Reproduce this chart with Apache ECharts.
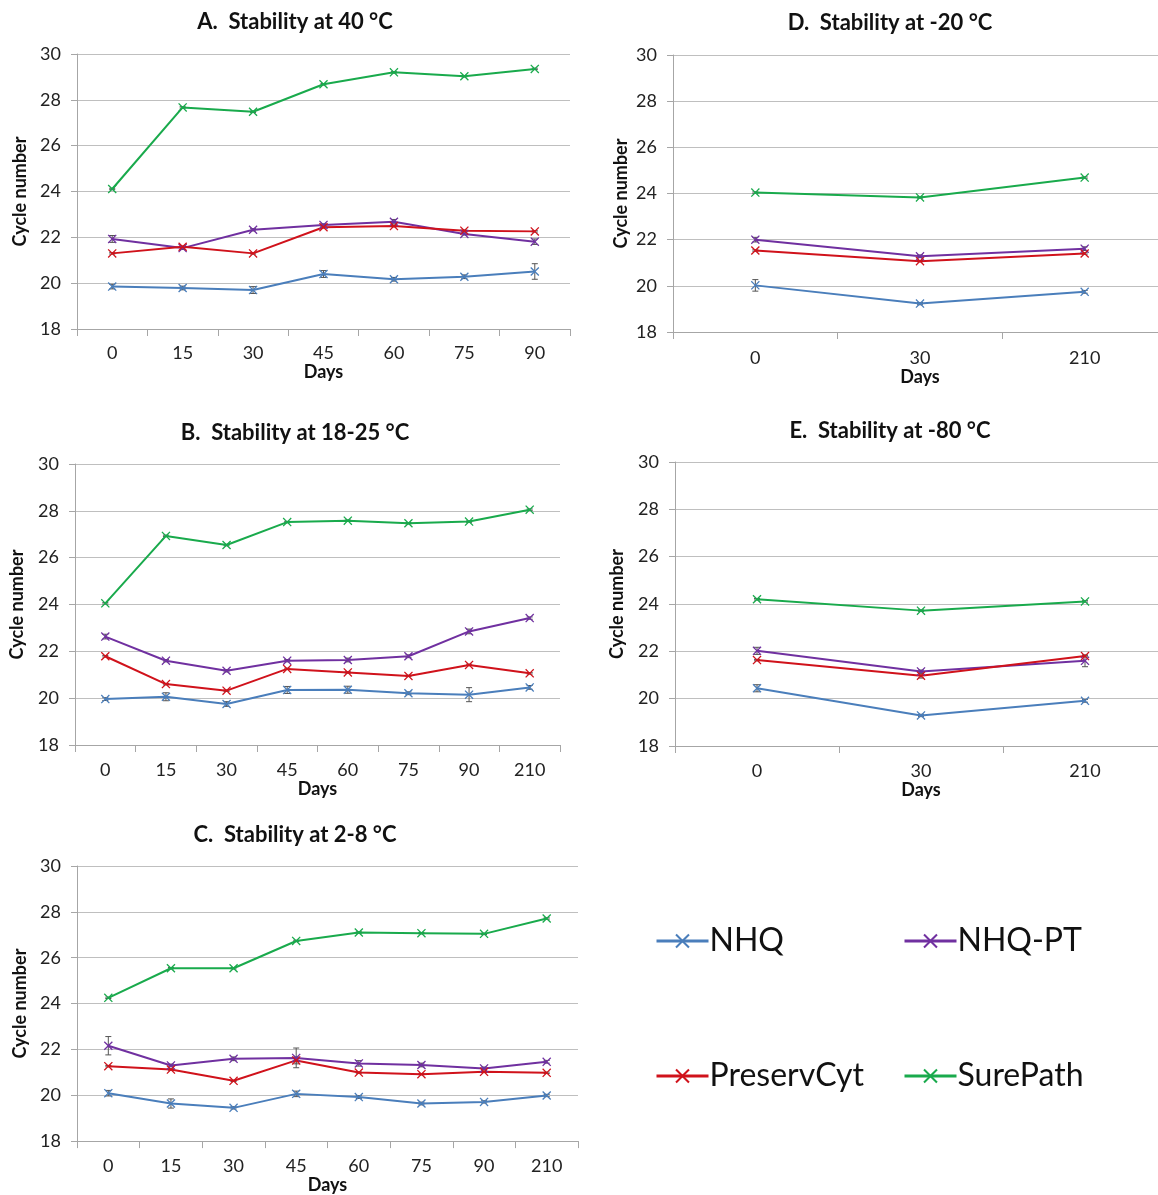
<!DOCTYPE html>
<html><head><meta charset="utf-8">
<script src="https://cdn.jsdelivr.net/npm/echarts@6/dist/echarts.min.js"></script>
<style>html,body{margin:0;padding:0;background:#fff;overflow:hidden}#c{width:1172px;height:1195px}</style>
</head><body><div id="c"></div>
<script>
// ---- categories ----
const daysA = ['0','15','30','45','60','75','90'];
const daysB = ['0','15','30','45','60','75','90','210'];
const daysC = ['0','15','30','45','60','75','90','210'];
const daysD = ['0','30','210'];
const daysE = ['0','30','210'];
const yTicks = [18,20,22,24,26,28,30];
const seriesNames = ['NHQ','NHQ-PT','PreservCyt','SurePath'];

// ---- A. 40 °C ----
const A_NHQ   = [19.85,19.79,19.70,20.40,20.17,20.28,20.51];
const A_NHQPT = [21.93,21.53,22.33,22.54,22.68,22.15,21.81];
const A_Pres  = [21.30,21.59,21.30,22.44,22.49,22.29,22.26];
const A_Sure  = [24.11,27.67,27.48,28.68,29.20,29.03,29.35];
const A_NHQ_err   = [0.10,0.08,0.15,0.15,0.08,0.08,0.34];
const A_NHQPT_err = [0.15,0.06,0.05,0.05,0.10,0.05,0.12];
const A_Pres_err  = [0.03,0.03,0.03,0.03,0.03,0.03,0.03];
const A_Sure_err  = [0.03,0.03,0.03,0.03,0.03,0.03,0.03];

// ---- B. 18-25 °C ----
const B_NHQ   = [19.96,20.06,19.75,20.35,20.36,20.21,20.15,20.46];
const B_NHQPT = [22.63,21.60,21.17,21.60,21.63,21.79,22.85,23.42];
const B_Pres  = [21.79,20.60,20.32,21.25,21.10,20.95,21.42,21.06];
const B_Sure  = [24.05,26.93,26.54,27.52,27.58,27.47,27.54,28.05];
const B_NHQ_err   = [0.06,0.17,0.10,0.15,0.15,0.06,0.30,0.08];
const B_NHQPT_err = [0.10,0.05,0.05,0.05,0.08,0.06,0.10,0.05];
const B_Pres_err  = [0.03,0.03,0.03,0.03,0.03,0.03,0.03,0.03];
const B_Sure_err  = [0.03,0.03,0.03,0.03,0.03,0.03,0.03,0.03];

// ---- C. 2-8 °C ----
const C_NHQ   = [20.09,19.64,19.45,20.06,19.92,19.64,19.71,19.99];
const C_NHQPT = [22.16,21.30,21.59,21.63,21.39,21.32,21.17,21.46];
const C_Pres  = [21.27,21.12,20.63,21.52,20.99,20.92,21.02,20.98];
const C_Sure  = [24.25,25.54,25.54,26.73,27.10,27.07,27.04,27.71];
const C_NHQ_err   = [0.12,0.20,0.05,0.12,0.06,0.06,0.05,0.05];
const C_NHQPT_err = [0.40,0.06,0.08,0.43,0.12,0.08,0.06,0.06];
const C_Pres_err  = [0.03,0.03,0.03,0.15,0.03,0.03,0.03,0.03];
const C_Sure_err  = [0.03,0.03,0.03,0.03,0.03,0.03,0.03,0.03];

// ---- D. -20 °C ----
const D_NHQ   = [20.02,19.23,19.74];
const D_NHQPT = [22.00,21.28,21.61];
const D_Pres  = [21.53,21.07,21.40];
const D_Sure  = [24.04,23.83,24.69];
const D_NHQ_err   = [0.25,0.05,0.06];
const D_NHQPT_err = [0.10,0.06,0.08];
const D_Pres_err  = [0.03,0.03,0.03];
const D_Sure_err  = [0.03,0.03,0.03];

// ---- E. -80 °C ----
const E_NHQ   = [20.44,19.29,19.91];
const E_NHQPT = [22.02,21.15,21.60];
const E_Pres  = [21.63,20.97,21.80];
const E_Sure  = [24.20,23.72,24.11];
const E_NHQ_err   = [0.15,0.05,0.06];
const E_NHQPT_err = [0.15,0.06,0.25];
const E_Pres_err  = [0.03,0.10,0.03];
const E_Sure_err  = [0.03,0.03,0.03];

const colors = {'NHQ':'#4A7EBB','NHQ-PT':'#7030A0','PreservCyt':'#D0121B','SurePath':'#19AA4C'};
const FONT = 'Lato, "Open Sans", sans-serif';
const XSYM = 'path://M0,1L1,0L5,4L9,0L10,1L6,5L10,9L9,10L5,6L1,10L0,9L4,5Z';

const panels = [
  {title:'A.  Stability at 40 °C', cx:290, ty:6, cats:daysA, grid:{left:77,top:54,width:493,height:275},
   lm:15, xg:34, yg:48,
   vals:[A_NHQ,A_NHQPT,A_Pres,A_Sure], errs:[A_NHQ_err,A_NHQPT_err,A_Pres_err,A_Sure_err]},
  {title:'D.  Stability at -20 °C', cx:885, ty:7, cats:daysD, grid:{left:673,top:55,width:494,height:277},
   lm:17, xg:36, yg:43,
   vals:[D_NHQ,D_NHQPT,D_Pres,D_Sure], errs:[D_NHQ_err,D_NHQPT_err,D_Pres_err,D_Sure_err]},
  {title:'B.  Stability at 18-25 °C', cx:290, ty:417, cats:daysB, grid:{left:75,top:464,width:485,height:281},
   lm:16, xg:33, yg:49,
   vals:[B_NHQ,B_NHQPT,B_Pres,B_Sure], errs:[B_NHQ_err,B_NHQPT_err,B_Pres_err,B_Sure_err]},
  {title:'E.  Stability at -80 °C', cx:885, ty:415, cats:daysE, grid:{left:675,top:462,width:492,height:284},
   lm:16, xg:32, yg:49,
   vals:[E_NHQ,E_NHQPT,E_Pres,E_Sure], errs:[E_NHQ_err,E_NHQPT_err,E_Pres_err,E_Sure_err]},
  {title:'C.  Stability at 2-8 °C', cx:290, ty:819, cats:daysC, grid:{left:77,top:866,width:501,height:280},
   lm:16, xg:31, yg:48,
   vals:[C_NHQ,C_NHQPT,C_Pres,C_Sure], errs:[C_NHQ_err,C_NHQPT_err,C_Pres_err,C_Sure_err]}
];

const option = {backgroundColor:'#fff', animation:false, title:[], grid:[], xAxis:[], yAxis:[], series:[], legend:[]};

panels.forEach((p,i)=>{
  option.title.push({text:p.title, left:p.cx, top:p.ty, textAlign:'center',
    textStyle:{fontFamily:FONT,fontWeight:'bold',fontSize:22,color:'#111'}});
  option.grid.push(Object.assign({containLabel:false}, p.grid));
  option.xAxis.push({type:'category', gridIndex:i, data:p.cats, boundaryGap:true,
    name:'Days', nameLocation:'middle', nameGap:p.xg,
    nameTextStyle:{fontFamily:FONT,fontWeight:'bold',fontSize:18,color:'#111'},
    axisLine:{lineStyle:{color:'#a6a6a6',width:1}},
    axisTick:{show:true,length:7,lineStyle:{color:'#a6a6a6'}},
    axisLabel:{fontFamily:FONT,fontSize:18,color:'#222',margin:p.lm},
    splitLine:{show:false}});
  option.yAxis.push({type:'value', gridIndex:i, min:yTicks[0], max:yTicks[yTicks.length-1], interval:2,
    name:'Cycle number', nameLocation:'middle', nameGap:p.yg, nameRotate:90,
    nameTextStyle:{fontFamily:FONT,fontWeight:'bold',fontSize:18,color:'#111'},
    axisLine:{show:true,lineStyle:{color:'#a6a6a6',width:1}},
    axisTick:{show:true,length:6,lineStyle:{color:'#a6a6a6'}},
    axisLabel:{fontFamily:FONT,fontSize:18,color:'#222',margin:16},
    splitLine:{show:true,lineStyle:{color:'#bfbfbf',width:1}}});
  seriesNames.forEach((nm,k)=>{
    const v=p.vals[k], e=p.errs[k];
    option.series.push({type:'custom', name:nm+' error', xAxisIndex:i, yAxisIndex:i, z:3,
      data:v.map((val,j)=>[j, val-e[j], val+e[j]]),
      renderItem:(params,api)=>{
        const lo=api.coord([api.value(0),api.value(1)]);
        const hi=api.coord([api.value(0),api.value(2)]);
        const w=3;
        return {type:'group',children:[
          {type:'line',shape:{x1:lo[0],y1:lo[1],x2:hi[0],y2:hi[1]},style:{stroke:'#555',lineWidth:1}},
          {type:'line',shape:{x1:lo[0]-w,y1:lo[1],x2:lo[0]+w,y2:lo[1]},style:{stroke:'#555',lineWidth:1}},
          {type:'line',shape:{x1:hi[0]-w,y1:hi[1],x2:hi[0]+w,y2:hi[1]},style:{stroke:'#555',lineWidth:1}}
        ]};
      }});
    option.series.push({type:'line', name:nm, xAxisIndex:i, yAxisIndex:i, data:v, z:4,
      symbol:XSYM, symbolSize:9, showSymbol:true,
      lineStyle:{color:colors[nm],width:2}, itemStyle:{color:colors[nm]}});
  });
});

const legPos = [
  {name:'NHQ',left:650,top:920},
  {name:'NHQ-PT',left:898,top:920},
  {name:'PreservCyt',left:650,top:1055},
  {name:'SurePath',left:898,top:1055}
];
legPos.forEach(l=>{
  option.legend.push({data:[l.name], left:l.left, top:l.top, orient:'horizontal',
    itemWidth:52, itemHeight:18, itemGap:0, selectedMode:false,
    lineStyle:{width:3},
    textStyle:{fontFamily:FONT,fontSize:32,color:'#111',padding:[0,0,0,-4]}});
});

const chart = echarts.init(document.getElementById('c'), null, {renderer:'canvas'});
chart.setOption(option);
</script></body></html>
